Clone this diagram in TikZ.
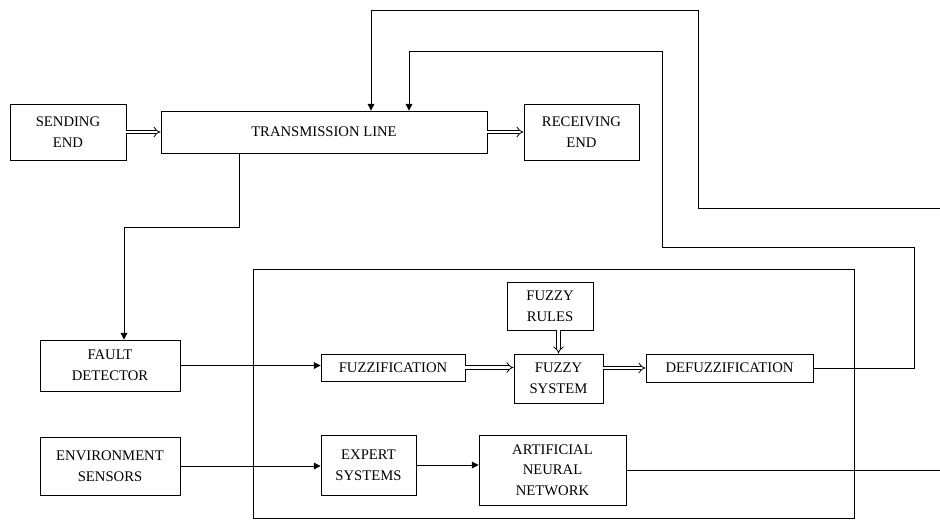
\documentclass[tikz,border=0pt]{standalone}
\usepackage{fontspec}
\setmainfont{Liberation Serif}
\usetikzlibrary{arrows.meta}
\tikzset{
  blok/.style={draw, line width=0.65pt, align=center, inner sep=0pt,
    font=\fontsize{11}{15.5}\selectfont},
  flow/.style={line width=0.7pt, -{Triangle[length=5pt,width=5pt]}},
  dflow/.style={double, double distance=2.2pt, line width=0.6pt, -{Implies}},
}
\begin{document}
\begin{tikzpicture}[x=0.75pt,y=-0.75pt]
	\useasboundingbox (0,0) rectangle (940,519);
	% upper row
	\node[blok, minimum width=87pt, minimum height=42pt] (send) at (68,132) {SENDING\\END};
	\node[blok, minimum width=244.5pt, minimum height=31.5pt] (trans) at (324,132) {TRANSMISSION LINE};
	\node[blok, minimum width=86.25pt, minimum height=42pt] (recv) at (581.5,132) {RECEIVING\\END};
	% left inputs
	\node[blok, minimum width=105pt, minimum height=38.25pt] (fault) at (110,365.5) {FAULT\\DETECTOR};
	\node[blok, minimum width=105pt, minimum height=43.5pt] (env) at (110,466) {ENVIRONMENT\\SENSORS};
	% controller
	\draw[line width=0.65pt] (253,269) rectangle (854,518);
	\node[blok, minimum width=64.5pt, minimum height=36pt] (rules) at (550,306) {FUZZY\\RULES};
	\node[blok, minimum width=108pt, minimum height=20.25pt] (fuzzif) at (393,367.5) {FUZZIFICATION};
	\node[blok, minimum width=66.75pt, minimum height=36.75pt] (fsys) at (558.5,378.5) {FUZZY\\SYSTEM};
	\node[blok, minimum width=125.25pt, minimum height=21pt] (defuzz) at (729.5,368) {DEFUZZIFICATION};
	\node[blok, minimum width=71.25pt, minimum height=45pt] (expert) at (368.5,465) {EXPERT\\SYSTEMS};
	\node[blok, minimum width=110.25pt, minimum height=52.5pt] (ann) at (552.5,470) {ARTIFICIAL\\NEURAL\\NETWORK};
	% helper points
	\coordinate (tapA) at (239,0);
	\coordinate (tapB) at (124,227);
	\coordinate (fbA) at (409,0);
	\coordinate (fbB) at (371,0);
	\coordinate (outR) at (940,0);
	\coordinate (inR) at (940,208);
	% power flow
	\draw[dflow] (send) -- (trans);
	\draw[dflow] (trans) -- (recv);
	\draw[dflow] (rules.south -| fsys) -- (fsys.north);
	\draw[dflow] (fuzzif.east) -- (fuzzif.east -| fsys.west);
	\draw[dflow] (fsys.east |- defuzz.west) -- (defuzz.west);
	% signals
	\draw[flow] (trans.south -| tapA) |- (tapB) -- (fault.north -| tapB);
	\draw[flow] (fault.east) -- (fault.east -| fuzzif.west);
	\draw[flow] (env.east) -- (env.east -| expert.west);
	\draw[flow] (expert.east) -- (expert.east -| ann.west);
	\draw[line width=0.7pt] (ann.east) -- (ann.east -| outR);
	\draw[flow] (defuzz.east) -| (914,247) -| (662,51) -| (trans.north -| fbA);
	\draw[flow] (inR) -| (698,10) -| (trans.north -| fbB);
\end{tikzpicture}
\end{document}
